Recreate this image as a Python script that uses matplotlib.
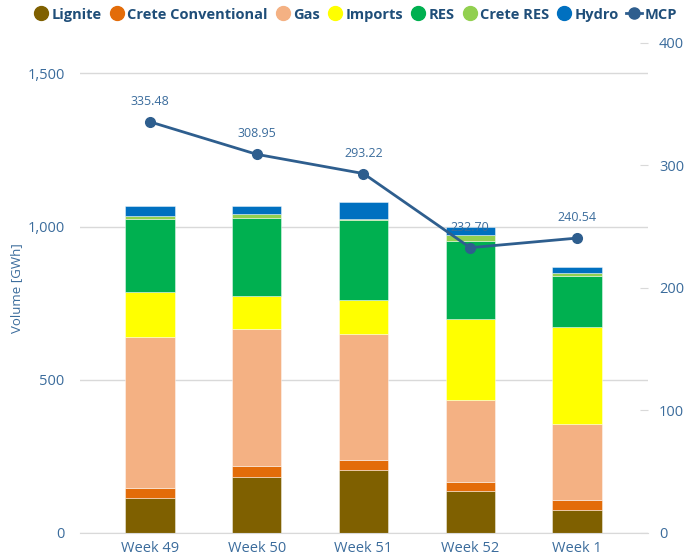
import matplotlib
matplotlib.use("Agg")
import matplotlib.pyplot as plt
from matplotlib.lines import Line2D
from matplotlib.ticker import FuncFormatter, MultipleLocator
import numpy as np

plt.rcParams['font.family'] = ['Open Sans', 'DejaVu Sans']

weeks = ["Week 49", "Week 50", "Week 51", "Week 52", "Week 1"]
lignite = [114, 182, 204, 136, 74]
crete_conventional = [31, 35, 33, 28, 33]
gas = [493, 447, 413, 268, 248]
imports = [148, 109, 111, 267, 318]
res = [239, 255, 259, 255, 165]
crete_res = [9, 12, 6, 17, 9]
hydro = [34, 26, 55, 27, 22]
mcp = [335.48, 308.95, 293.22, 232.70, 240.54]

series_names = ["Lignite", "Crete Conventional", "Gas", "Imports", "RES", "Crete RES", "Hydro"]
series_values = [lignite, crete_conventional, gas, imports, res, crete_res, hydro]
colors = ["#7F6000", "#E36C09", "#F4B183", "#FFFF00", "#00B050", "#92D050", "#0070C0"]
line_color = "#2E5E8E"
text_color = "#3B6C9C"
legend_text_color = "#1F4E79"

fig = plt.figure(figsize=(6.89, 5.56), dpi=100)
ax = fig.add_axes([0.116, 0.042, 0.8245, 0.881])
x = np.arange(len(weeks))
bottom = np.zeros(len(weeks))
for name, vals, c in zip(series_names, series_values, colors):
    ax.bar(x, vals, 0.46, bottom=bottom, color=c, edgecolor=(1, 1, 1, 0.5), linewidth=0.6, zorder=2, label=name)
    bottom += np.array(vals)

ax.set_xlim(-0.656, 4.665)
ax.set_ylim(0, 1600)
ax.yaxis.set_major_locator(MultipleLocator(500))
ax.yaxis.set_major_formatter(FuncFormatter(lambda v, p: f"{int(v):,}"))
ax.grid(axis='y', color='#D9D9D9', linewidth=1, zorder=0)
ax.set_axisbelow(True)
for s in ['top', 'right', 'left']:
    ax.spines[s].set_visible(False)
ax.spines['bottom'].set_color('#D9D9D9')
ax.set_xticks(x)
ax.set_xticklabels(weeks)
ax.tick_params(axis='x', length=0, pad=6, labelsize=10.5, labelcolor=text_color)
ax.tick_params(axis='y', length=0, pad=11, labelsize=10.5, labelcolor=text_color)
ax.set_ylabel("Volume [GWh]", color=text_color, fontsize=9.5)
ax.yaxis.set_label_coords(-0.1, 0.5)

ax2 = ax.twinx()
ax2.set_ylim(0, 400)
ax2.yaxis.set_major_locator(MultipleLocator(100))
for s in ax2.spines.values():
    s.set_visible(False)
ax2.tick_params(axis='y', direction='in', length=6, color='#D9D9D9', pad=8, labelsize=10.5, labelcolor=text_color)
ax2.plot(x, mcp, color=line_color, linewidth=2, marker='o', markersize=7, zorder=5)
for xi, v in zip(x, mcp):
    ax2.annotate(f"{v:.2f}", (xi, v), xytext=(0, 10), textcoords='offset points',
                 ha='center', va='bottom', fontsize=9, color=text_color)

handles = [Line2D([], [], linestyle='none', marker='o', markersize=10, color=c) for c in colors]
handles.append(Line2D([], [], color=line_color, linewidth=2, marker='o', markersize=8))
labels = series_names + ["MCP"]
leg = fig.legend(handles, labels, loc='upper center', bbox_to_anchor=(0.515, 1.01), ncol=8,
                 frameon=False, handletextpad=0.15, columnspacing=0.5, handlelength=1.1,
                 prop={'weight': 'bold', 'size': 10.5})
for t in leg.get_texts():
    t.set_color(legend_text_color)

fig.savefig("out.png", dpi=100)
